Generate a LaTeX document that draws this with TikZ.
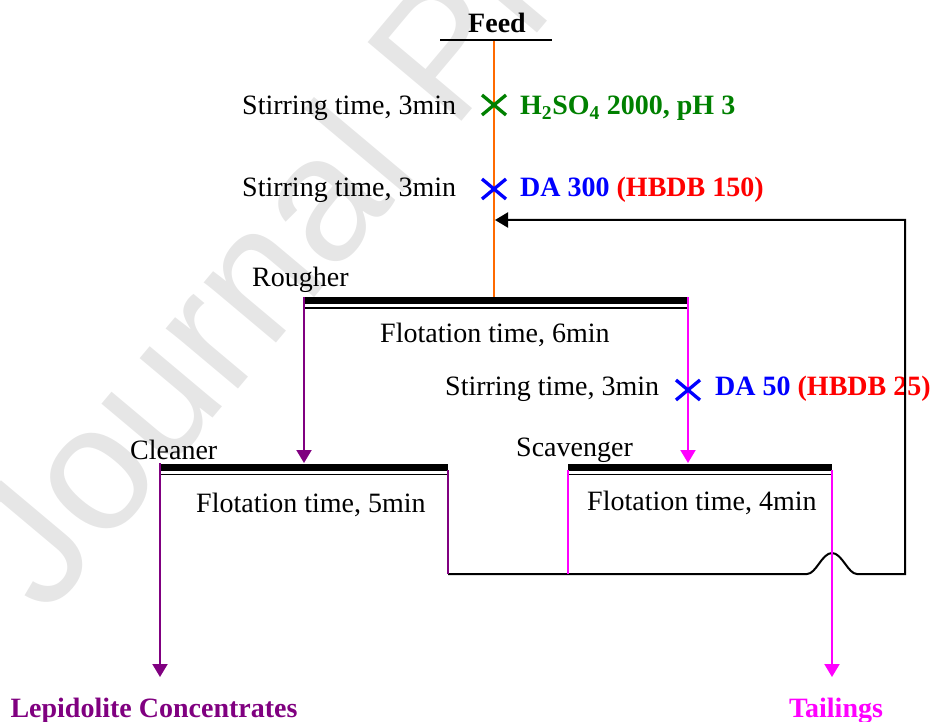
\documentclass[tikz,border=0pt]{standalone}
\usepackage{fontspec}
\setmainfont{Liberation Serif}
\newfontfamily\wmfont{Liberation Sans}
\usetikzlibrary{arrows.meta,shapes.misc}
\definecolor{cpurple}{HTML}{800080}
\definecolor{cmag}{HTML}{FF00FF}
\definecolor{corange}{HTML}{FF6A00}
\definecolor{cgreen}{HTML}{008000}
\definecolor{cblue}{HTML}{0000FF}
\definecolor{cred}{HTML}{FF0000}
\definecolor{wm}{HTML}{E6E6E6}
\begin{document}
\begin{tikzpicture}[x=1pt,y=-1pt,
  txt/.style={inner sep=0pt,anchor=base west,font=\fontsize{28}{32}\selectfont},
  btxt/.style={inner sep=0pt,anchor=base west,font=\fontsize{28}{32}\selectfont\bfseries},
  bar/.style={line width=7pt},
  thinbar/.style={line width=1.6pt},
  flow/.style={line width=2pt},
  tip/.style={-{Triangle[width=15pt,length=13pt]}},
  xmark/.style={cross out,draw,line width=3.3pt,minimum width=24pt,minimum height=20pt,inner sep=0pt,outer sep=0pt}
]
\useasboundingbox (0,0) rectangle (932,722);
% watermark
\begin{scope}
\clip (0,0) rectangle (932,722);
\node[inner sep=0pt,anchor=base west,rotate=50,text=wm,font=\wmfont\fontsize{178}{180}\selectfont] (wmark) at (46,618) {Journal Pre-proof};
\end{scope}

% coordinates
\coordinate (fdL) at (440,40);
\coordinate (fdR) at (552,40);
\coordinate (fdM) at (494,41);
\coordinate (rIn) at (494,297);
\coordinate (rL) at (304,300.5);
\coordinate (rR) at (688,300.5);
\coordinate (rLt) at (304,297);
\coordinate (rRt) at (688,297);
\coordinate (cL) at (160,467);
\coordinate (cR) at (448,467);
\coordinate (cLt) at (160,463);
\coordinate (cRt) at (448,470);
\coordinate (cIn) at (304,463);
\coordinate (sL) at (568,467);
\coordinate (sR) at (832,467);
\coordinate (sLt) at (568,470);
\coordinate (sRt) at (832,470);
\coordinate (sIn) at (688,463);
\coordinate (cRb) at (448,574);
\coordinate (sLb) at (568,574);
\coordinate (h1) at (807,574);
\coordinate (hp) at (832,553);
\coordinate (h2) at (857,574);
\coordinate (fbB) at (905,574);
\coordinate (fbT) at (905,220);
\coordinate (fbTip) at (495,220);
\coordinate (conc) at (160,677);
\coordinate (tail) at (832,677);

% texts
\node[btxt,anchor=base] (feed) at (497,33) {Feed};
\node[txt] (s1) at (242,115) {Stirring time, 3min};
\node[btxt,text=cgreen] (r1) at (520,115) {H\textsubscript{2}SO\textsubscript{4} 2000, pH 3};
\node[txt] (s2) at (242,197) {Stirring time, 3min};
\node[btxt] (r2) at (520,197) {\color{cblue}DA 300 \color{cred}(HBDB 150)};
\node[txt] (rough) at (252,287) {Rougher};
\node[txt] (f6) at (380,342) {Flotation time, 6min};
\node[txt] (s3) at (445,395) {Stirring time, 3min};
\node[btxt] (r3) at (715,395) {\color{cblue}DA 50 \color{cred}(HBDB 25)};
\node[txt] (clean) at (130,459) {Cleaner};
\node[txt] (f5) at (196,512) {Flotation time, 5min};
\node[txt] (scav) at (516,456) {Scavenger};
\node[txt] (f4) at (587,510) {Flotation time, 4min};
\node[btxt,anchor=base,text=cpurple] (lep) at (154,717) {Lepidolite Concentrates};
\node[btxt,anchor=base,text=cmag] (tl) at (836,717) {Tailings};

% feed
\draw[flow] (fdL) -- (fdR);
\draw[flow,corange] (fdM) -- (rIn);

% bars
\draw[bar] (rL) -- (rR);
\draw[thinbar] ([yshift=-7.5pt]rL) -- ([yshift=-7.5pt]rR);
\draw[bar] (cL) -- (cR);
\draw[thinbar] ([yshift=-7.5pt]cL) -- ([yshift=-7.5pt]cR);
\draw[bar] (sL) -- (sR);
\draw[thinbar] ([yshift=-7.5pt]sL) -- ([yshift=-7.5pt]sR);

% recycle line
\draw[flow,tip] (cRb) -- (h1) .. controls (816,574) and (822,553) .. (hp)
  .. controls (842,553) and (848,574) .. (h2) -- (fbB) -- (fbT) -- (fbTip);

% flows
\draw[flow,cpurple,tip] (rLt) -- (cIn);
\draw[flow,cmag,tip] (rRt) -- (sIn);
\draw[flow,cpurple,tip] (cLt) -- (conc);
\draw[flow,cpurple] (cRt) -- (cRb);
\draw[flow,cmag] (sLt) -- (sLb);
\draw[flow,cmag,tip] (sRt) -- (tail);

% reagent marks
\node[xmark,cgreen] (x1) at (494,105) {};
\node[xmark,cblue] (x2) at (494,189) {};
\node[xmark,cblue] (x3) at (688,390) {};
\end{tikzpicture}
\end{document}
